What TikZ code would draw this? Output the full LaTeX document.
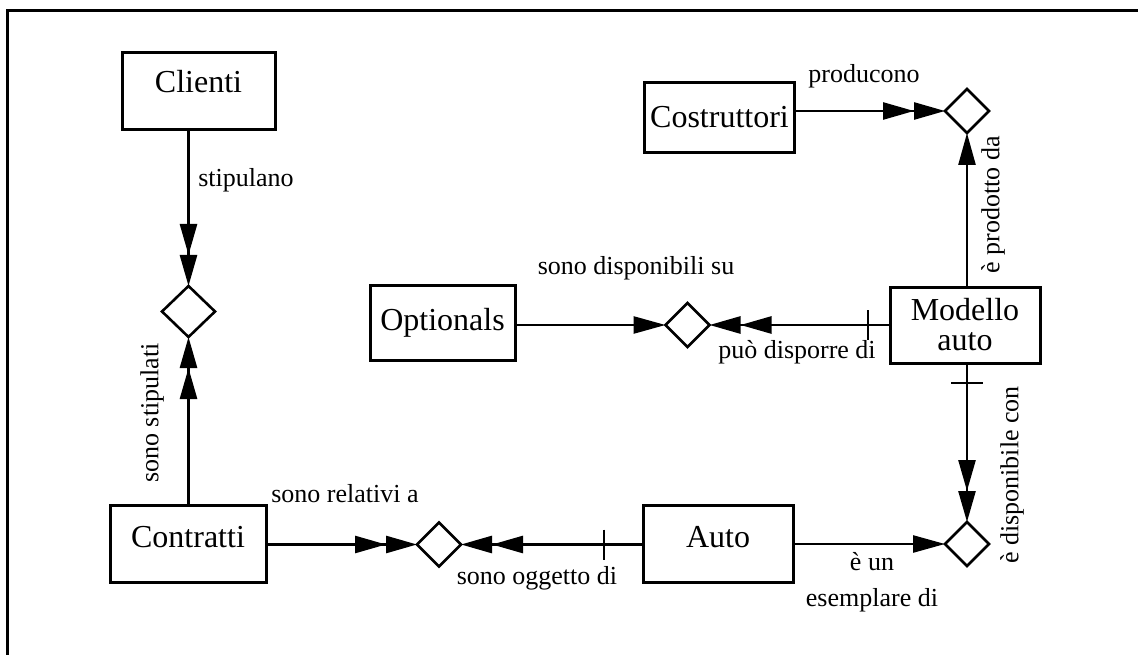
\documentclass[tikz,border=0pt]{standalone}
\usepackage{fontspec}
\setmainfont{Liberation Serif}
\usetikzlibrary{arrows.meta,shapes.geometric}
\tikzset{
  entita/.style={draw,line width=3pt,inner sep=0pt,outer sep=0pt,align=center,font=\fontsize{32}{30}\selectfont},
  relaz/.style={draw,diamond,line width=2.6pt,inner sep=0pt,outer sep=0pt,minimum width=44pt,minimum height=44pt},
  etich/.style={inner sep=0pt,font=\fontsize{26}{36}\selectfont},
  uno/.style={-{Triangle[length=32pt,width=17pt]}},
  molti/.style={-{Triangle[length=31pt,width=17pt,sep=0pt]Triangle[length=31pt,width=17pt,sep=0pt]}}
}
\begin{document}
\begin{tikzpicture}[x=1pt,y=-1pt,line width=2.6pt]
		\useasboundingbox (0,0) rectangle (1138,655);
		% cornice
		\draw[line width=3pt] (7,655)--(7,11)--(1138,11);
		% entita
		\node[entita,minimum width=153pt,minimum height=77pt,text depth=21pt] (cli) at (198.5,91.5) {Clienti};
		\node[entita,minimum width=150pt,minimum height=70pt] (cos) at (719.5,117.5) {Costruttori};
		\node[entita,minimum width=145pt,minimum height=75pt] (opt) at (442.5,322.5) {Optionals};
		\node[entita,minimum width=150pt,minimum height=76pt] (mod) at (965,325) {Modello\\auto};
		\node[entita,minimum width=156pt,minimum height=77pt,text depth=14pt] (con) at (188,543.5) {Contratti};
		\node[entita,minimum width=150pt,minimum height=77pt,text depth=14pt] (aut) at (718,543.5) {Auto};
		% relazioni
		\node[relaz,minimum width=53pt,minimum height=51pt] (rst) at (188.5,311.5) {};
		\node[relaz] (rpr) at (967,111) {};
		\node[relaz] (rdi) at (687.5,325) {};
		\node[relaz] (rre) at (439,544.5) {};
		\node[relaz] (res) at (967,544) {};
		% collegamenti
		\draw[molti] (cli.south -| rst)--(rst.north);
		\draw[molti] (con.north -| rst)--(rst.south);
		\draw[molti] (cos.east |- rpr)--(rpr.west);
		\draw[uno] (mod.north -| rpr)--(rpr.south);
		\draw[uno] (opt.east |- rdi)--(rdi.west);
		\draw[molti] (mod.west |- rdi)--(rdi.east);
		\draw[molti] (mod.south -| res)--(res.north);
		\draw[molti] (con.east |- rre)--(rre.west);
		\draw[molti] (aut.west |- rre)--(rre.east);
		\draw[uno] (aut.east |- res)--(res.west);
		% tacche
		\coordinate (t1) at (868,325);
		\coordinate (t2) at (604,544.5);
		\coordinate (t3) at (967,383);
		\draw (t1) ++(0,-15)--++(0,30);
		\draw (t2) ++(0,-15)--++(0,30);
		\draw (t3) ++(-16,0)--++(32,0);
		% etichette
		\node[etich,anchor=west] (lst) at (197,180) {stipulano};
		\node[etich,rotate=90] (lss) at (152,413) {sono stipulati};
		\node[etich] (lpr) at (864,76) {producono};
		\node[etich,rotate=90] (lpd) at (993,205) {è prodotto da};
		\node[etich] (lds) at (636,268) {sono disponibili su};
		\node[etich] (lpu) at (797,352) {può disporre di};
		\node[etich,rotate=90] (ldc) at (1012,475) {è disponibile con};
		\node[etich] (lre) at (345,494) {sono relativi a};
		\node[etich] (log) at (537,578) {sono oggetto di};
		\node[etich,align=center] (les) at (872,582) {è un\\esemplare di};
\end{tikzpicture}
\end{document}
